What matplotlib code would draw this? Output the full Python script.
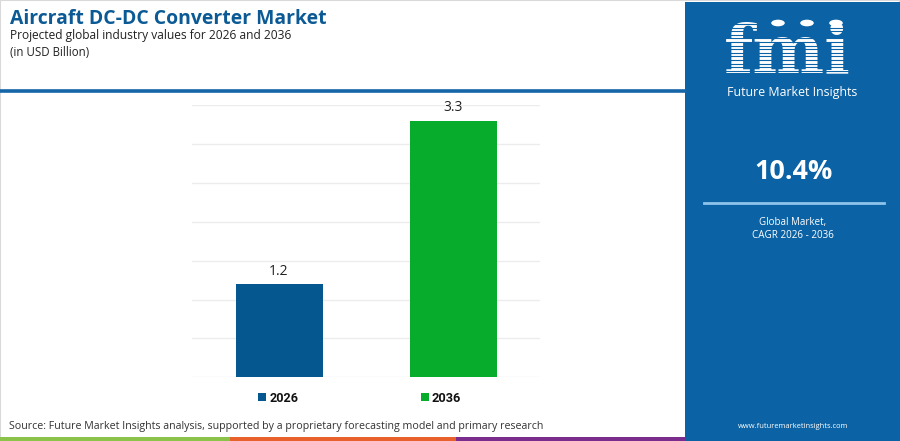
import matplotlib
matplotlib.use("Agg")
import matplotlib.pyplot as plt
from matplotlib.patches import Rectangle, Circle
from matplotlib.lines import Line2D

# ---------------- data ----------------
years = ["2026", "2036"]
values = [1.2, 3.3]
bar_colors = ["#04588F", "#08AC2C"]
title = "Aircraft DC-DC Converter Market"
subtitle = "Projected global industry values for 2026 and 2036"
unit_label = "(in USD Billion)"
cagr = "10.4%"
cagr_label = ["Global Market,", "CAGR 2026 - 2036"]
source = "Source: Future Market Insights analysis, supported by a proprietary forecasting model and primary research"
website = "www.futuremarketinsights.com"
brand = "Future Market Insights"

W, H = 900, 441
fig = plt.figure(figsize=(W / 100, H / 100), dpi=100)
fig.patch.set_facecolor("white")
FONT = "Open Sans"

def fx(px):
    return px / W

def fy(py):
    return 1 - py / H

renderer = fig.canvas.get_renderer()

def fit_text(s, x, y, width, ha="left", va="baseline", **kw):
    t = fig.text(fx(x), fy(y), s, ha=ha, va=va, fontsize=10, **kw)
    w = t.get_window_extent(renderer=renderer).width
    t.set_fontsize(10 * width / w)
    return t

# ---------------- background elements ----------------
fig.add_artist(Rectangle((0, 0), 1, 1, transform=fig.transFigure, fill=False,
                         edgecolor="#d9d9d9", linewidth=1.5))
PANEL = "#0B62A4"
fig.add_artist(Rectangle((fx(685), 0), fx(900 - 685), fy(2), transform=fig.transFigure,
                         facecolor=PANEL, edgecolor="none"))
fig.add_artist(Line2D([0, fx(685)], [fy(90.5), fy(90.5)], transform=fig.transFigure,
                      color="#1565A8", linewidth=2.6))
for x0, x1, c in [(0, 230, "#8BC34A"), (230, 456, "#E8602C"), (456, 685, "#7B2D8E")]:
    fig.add_artist(Rectangle((fx(x0), 0), fx(x1 - x0), 4 / H, transform=fig.transFigure,
                             facecolor=c, edgecolor="none"))

# ---------------- titles ----------------
fit_text(title, 10, 24.5, 317, fontweight="bold", color="#0B5A95", family=FONT)
fit_text(subtitle, 10, 39.5, 284, color="#222222", family=FONT)
fit_text(unit_label, 10, 55.5, 79, color="#222222", family=FONT)

# ---------------- chart ----------------
ax = fig.add_axes([fx(192), fy(377.3), fx(540 - 192), (377.3 - 105) / H])
x = list(range(len(years)))
ax.bar(x, values, width=0.5, color=bar_colors, zorder=3)
ax.set_xlim(-0.5, 1.5)
ax.set_ylim(0, 3.5)
ax.set_yticks([i * 0.5 for i in range(8)])
ax.grid(axis="y", color="#ececec", linewidth=1, zorder=0)
ax.set_xticks([])
ax.tick_params(axis="y", length=0, labelleft=False)
for s in ax.spines.values():
    s.set_visible(False)
for xi, v in zip(x, values):
    ax.annotate(f"{v:.1f}", (xi, v), xytext=(0, 9.3), textcoords="offset points",
                ha="center", va="center", fontsize=10, color="#222222", family=FONT)

# legend
for (lx, tx), yr, c in zip([(258, 270), (421, 432)], years, bar_colors):
    fig.add_artist(Rectangle((fx(lx), fy(401)), fx(8), 8 / H, transform=fig.transFigure,
                             facecolor=c, edgecolor="none"))
    fit_text(yr, tx, 401.5, 29, fontweight="bold", color="#111111", family="Roboto")

# source
fit_text(source, 9, 428.7, 537, color="#333333", family=FONT)

# ---------------- right panel content ----------------
cx = 792.5
fit_text("fmi", 787, 72, 127, ha="center", fontweight="bold",
         color="white", family="DejaVu Serif")
for k in range(15):
    yy = 24 + k * 3.6
    fig.add_artist(Line2D([fx(718), fx(856)], [fy(yy), fy(yy)], transform=fig.transFigure,
                          color=PANEL, linewidth=0.8, zorder=6))
for ccx in [778, 807, 836]:
    fig.add_artist(Circle((fx(ccx), fy(23)), 6.8 / W, transform=fig.transFigure,
                          facecolor="white", edgecolor="none", zorder=7))
fit_text(brand, cx, 96, 131, color="white", family=FONT, ha="center")

fit_text(cagr, cx + 1, 179, 78, ha="center", fontweight="bold", color="white", family=FONT)
fig.add_artist(Line2D([fx(704), fx(884)], [fy(203), fy(203)], transform=fig.transFigure,
                      color="#8EC3EA", linewidth=2))
fit_text(cagr_label[0], cx, 225.5, 67, ha="center", color="white", family=FONT)
fit_text(cagr_label[1], cx, 237.5, 82, ha="center", color="white", family=FONT)
fit_text(website, cx + 1, 428, 111, ha="center", color="white", family=FONT)

fig.savefig("out.png", dpi=100, facecolor="white")
